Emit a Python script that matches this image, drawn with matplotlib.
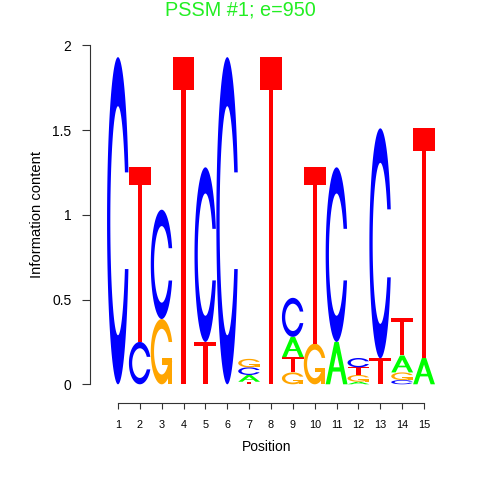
import numpy as np
import matplotlib
matplotlib.use("Agg")
import matplotlib.pyplot as plt
from matplotlib.patches import Polygon

plt.rcParams['font.family'] = ['Liberation Sans', 'DejaVu Sans']

# information content (bits) per base at each position
positions = list(range(1, 16))
a_bits = [0, 0, 0, 0, 0, 0, 0.040, 0, 0.120, 0, 0.250, 0.015, 0, 0.100, 0.155]
c_bits = [1.93, 0.25, 0.645, 0, 1.03, 1.93, 0.045, 0, 0.230, 0, 1.030, 0.055, 1.357, 0.025, 0]
g_bits = [0, 0, 0.385, 0, 0, 0, 0.050, 0, 0.070, 0.240, 0, 0.040, 0, 0.045, 0]
t_bits = [0, 1.03, 0, 1.93, 0.25, 0, 0.015, 1.93, 0.090, 1.040, 0, 0.045, 0.153, 0.220, 1.355]

colours = {'A': '#00FF00', 'C': '#0000FF', 'G': '#FFA500', 'T': '#FF0000'}
title = "PSSM #1; e=950"


def c_outline():
    # same shape the R seqLogo package uses for C
    a1 = np.linspace(0.3 + np.pi / 2, np.pi, 100)
    a2 = np.linspace(np.pi, 1.5 * np.pi, 100)
    xl = np.concatenate([0.5 + 0.5 * np.sin(a1), 0.5 + 0.5 * np.sin(a2)])
    yl = np.concatenate([0.5 + 0.5 * np.cos(a1), 0.5 + 0.5 * np.cos(a2)])
    x = np.concatenate([xl, xl[::-1]])
    y = np.concatenate([yl, 1 - yl[::-1]])
    ymax = (0.5 + 0.5 * np.cos(a1)).max()
    xi1 = 0.5 + 0.35 * np.sin(a1)
    yi1 = 0.5 + 0.35 * np.cos(a1)
    keep = yi1 <= ymax
    xi1, yi1 = xi1[keep], yi1[keep]
    yi1[0] = ymax
    xi = np.concatenate([xi1, 0.5 + 0.35 * np.sin(a2)])
    yi = np.concatenate([yi1, 0.5 + 0.35 * np.cos(a2)])
    x1 = np.concatenate([xi, xi[::-1]])
    y1 = np.concatenate([yi, 1 - yi[::-1]])
    x = np.concatenate([x, x1[::-1]])
    y = np.concatenate([y, y1[::-1]])
    return x, y, (0.5 + 0.5 * np.sin(a1)).max()


def letter_shapes(base):
    # list of (x, y, fill) in unit box
    if base == 'A':
        xo = np.array([0, 4, 6, 10, 8, 6.8, 3.2, 2, 0]) * 0.1
        yo = np.array([0, 10, 10, 0, 0, 3, 3, 0, 0]) * 0.1
        xi = np.array([3.6, 5, 6.4, 3.6]) * 0.1
        yi = np.array([4, 7.5, 4, 4]) * 0.1
        return [(xo, yo, colours['A']), (xi, yi, 'white')]
    if base == 'T':
        x = np.array([0, 10, 10, 6, 6, 4, 4, 0]) * 0.1
        y = np.array([10, 10, 9, 9, 0, 0, 9, 9]) * 0.1
        return [(x, y, colours['T'])]
    x, y, r1 = c_outline()
    if base == 'C':
        return [(x, y, colours['C'])]
    h1 = 0.4
    xa = np.array([r1, 0.5, 0.5, r1 - 0.2, r1 - 0.2, r1, r1])
    ya = np.array([h1, h1, h1 - 0.1, h1 - 0.1, 0, 0, h1])
    return [(x, y, colours['G']), (xa, ya, colours['G'])]


fig = plt.figure(figsize=(4.8, 4.8), dpi=100)
ax = fig.add_axes([90 / 480, 77 / 480, 350 / 480, 357.7 / 480])

for i, pos in enumerate(positions):
    col = {'A': a_bits[i], 'C': c_bits[i], 'G': g_bits[i], 'T': t_bits[i]}
    bottom = 0
    for base in sorted(col, key=lambda b: col[b]):
        h = col[base]
        if h <= 0:
            continue
        for x, y, fill in letter_shapes(base):
            xy = np.column_stack([pos - 0.5 + x, bottom + h * y])
            ax.add_patch(Polygon(xy, closed=True, facecolor=fill,
                                 edgecolor='none'))
        bottom += h

ax.set_xlim(-0.28, 15.73)
ax.set_ylim(-0.1104, 2.0)
ax.spines['top'].set_visible(False)
ax.spines['right'].set_visible(False)
ax.spines['left'].set_bounds(0, 2)
ax.spines['bottom'].set_bounds(1, 15)
for s in ['left', 'bottom']:
    ax.spines[s].set_color('#333333')
    ax.spines[s].set_linewidth(0.8)

ax.set_yticks([0, 0.5, 1, 1.5, 2])
ax.set_yticklabels(['0', '0.5', '1', '1.5', '2'])
ax.set_xticks(positions)
ax.set_xticklabels([str(p) for p in positions])
ax.tick_params(axis='y', length=5.8, width=0.8, color='#333333', labelsize=10, pad=7.5)
ax.tick_params(axis='x', length=4.2, width=0.8, color='#333333', labelsize=7.8, pad=8)

ax.set_ylabel('Information content', fontsize=10.6, labelpad=6)
ax.yaxis.label.set_y(0.526)
ax.set_xlabel('Position', fontsize=10, labelpad=7)
ax.xaxis.label.set_x(0.505)

fig.text(0.5, 1 - 15 / 480, title, ha='center', va='baseline',
         fontsize=14.3, color='#22EE22')

fig.savefig('out.png', dpi=100)
